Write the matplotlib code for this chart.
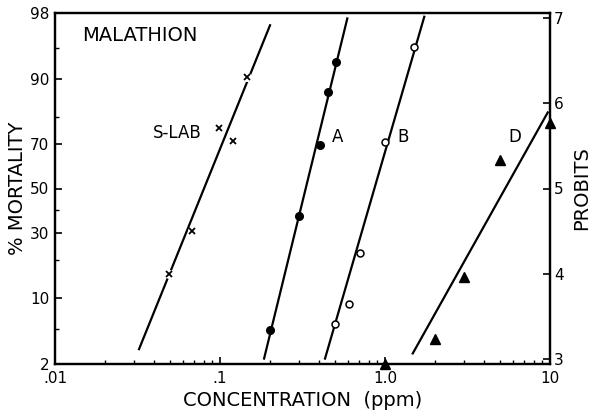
import matplotlib
matplotlib.use("Agg")
import matplotlib.pyplot as plt
from matplotlib.ticker import FixedLocator, NullFormatter, NullLocator
from statistics import NormalDist

_nd = NormalDist()


def probit(pct):
    return 5.0 + _nd.inv_cdf(pct / 100.0)


# ---------------- data ----------------
slab_conc = [0.049, 0.068, 0.099, 0.12, 0.146]
slab_probit = [4.00, 4.50, 5.71, 5.56, 6.30]
slab_fit_conc = [0.0323, 0.201]
slab_fit_probit = [3.12, 6.91]

a_conc = [0.201, 0.303, 0.401, 0.452, 0.508]
a_probit = [3.34, 4.68, 5.51, 6.13, 6.48]
a_fit_conc = [0.185, 0.591]
a_fit_probit = [3.01, 6.99]

b_conc = [0.498, 0.605, 0.706, 1.0, 1.507]
b_probit = [3.42, 3.65, 4.25, 5.54, 6.66]
b_fit_conc = [0.433, 1.73]
b_fit_probit = [3.01, 7.01]

d_conc = [2.0, 3.0, 5.0, 10.0]
d_probit = [3.24, 3.96, 5.33, 5.77]
d_zero_conc = [1.0]          # 0 % mortality, drawn on the axis
d_fit_conc = [1.473, 9.69]
d_fit_probit = [3.07, 5.89]

mortality_ticks = [2, 10, 30, 50, 70, 90, 98]
mortality_minor = [5, 20, 40, 80, 95]
probit_ticks = [3, 4, 5, 6, 7]
conc_ticks = [0.01, 0.1, 1.0, 10.0]
conc_labels = [".01", ".1", "1.0", "10"]

# ---------------- figure ----------------
fig = plt.figure(figsize=(5.9, 4.16), dpi=100)
ax = fig.add_axes([55 / 590, 1 - 364 / 416, 495 / 590, 351 / 416])

ymin, ymax = probit(2), probit(98)
lw = 1.6

ax.plot(slab_fit_conc, slab_fit_probit, color="black", lw=lw, zorder=2)
ax.plot(a_fit_conc, a_fit_probit, color="black", lw=lw, zorder=2)
ax.plot(b_fit_conc, b_fit_probit, color="black", lw=lw, zorder=2)
ax.plot(d_fit_conc, d_fit_probit, color="black", lw=lw, zorder=2)

# S-LAB crosses with a white halo that breaks the line
ax.plot(slab_conc, slab_probit, ls="none", marker="o", ms=6.5, mfc="white",
        mec="none", zorder=3)
ax.plot(slab_conc, slab_probit, ls="none", marker="x", ms=4.0, mew=1.3,
        color="black", zorder=4)
ax.plot(a_conc, a_probit, ls="none", marker="o", ms=5.5, mfc="black",
        mec="black", zorder=4)
ax.plot(b_conc, b_probit, ls="none", marker="o", ms=5.0, mfc="white",
        mec="black", mew=1.1, zorder=4)
ax.plot(d_conc, d_probit, ls="none", marker="^", ms=6.5, mfc="black",
        mec="black", zorder=5, clip_on=False)
ax.plot(d_zero_conc, [ymin], ls="none", marker="^", ms=6.5, mfc="black",
        mec="black", zorder=5, clip_on=False)

ax.set_xscale("log")
ax.set_xlim(0.01, 10)
ax.set_ylim(ymin, ymax)

ax.xaxis.set_major_locator(FixedLocator(conc_ticks))
ax.set_xticklabels(conc_labels)
ax.xaxis.set_minor_formatter(NullFormatter())

ax.yaxis.set_major_locator(FixedLocator([probit(p) for p in mortality_ticks]))
ax.set_yticklabels([str(p) for p in mortality_ticks])
ax.yaxis.set_minor_locator(FixedLocator([probit(p) for p in mortality_minor]))

for s in ax.spines.values():
    s.set_linewidth(1.6)

ax.tick_params(axis="both", which="major", direction="in", length=5,
               width=1.2, labelsize=11, pad=4)
ax.tick_params(axis="both", which="minor", direction="in", length=3,
               width=1.0)
ax.tick_params(axis="x", which="major", pad=5)
ax.tick_params(top=False, right=False, which="both")

ax2 = ax.twinx()
ax2.set_ylim(ymin, ymax)
ax2.yaxis.set_major_locator(FixedLocator(probit_ticks))
ax2.yaxis.set_minor_locator(NullLocator())
ax2.set_yticklabels([str(p) for p in probit_ticks])
ax2.tick_params(axis="y", direction="in", length=5, width=1.2,
                labelsize=11, pad=3)
for s in ax2.spines.values():
    s.set_linewidth(1.6)

ax.set_xlabel("CONCENTRATION  (ppm)", fontsize=14, labelpad=4)
ax.set_ylabel("% MORTALITY", fontsize=14, labelpad=2)
ax2.set_ylabel("PROBITS", fontsize=14, labelpad=6)

ax.text(0.0545, 0.937, "MALATHION", transform=ax.transAxes, fontsize=14,
        ha="left", va="center")
ax.text(0.198, 0.658, "S-LAB", transform=ax.transAxes, fontsize=12,
        ha="left", va="center")
ax.text(0.570, 0.647, "A", transform=ax.transAxes, fontsize=12,
        ha="center", va="center")
ax.text(0.703, 0.647, "B", transform=ax.transAxes, fontsize=12,
        ha="center", va="center")
ax.text(0.929, 0.647, "D", transform=ax.transAxes, fontsize=12,
        ha="center", va="center")

fig.savefig("out.png", dpi=100)
